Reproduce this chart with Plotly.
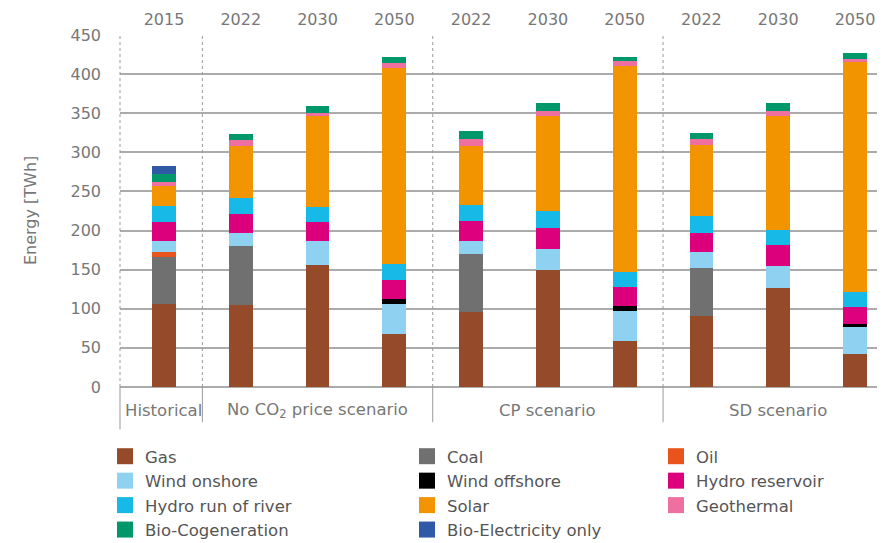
import plotly.graph_objects as go

years = ["2015", "2022", "2030", "2050", "2022", "2030", "2050", "2022", "2030", "2050"]
groups = ["Historical", "No CO<sub>2</sub> price scenario", "CP scenario", "SD scenario"]
group_centers = [0, 2, 5, 8]
group_bounds = [0.5, 3.5, 6.5]

gas = [106, 104.5, 155.6, 67.4, 95.5, 149.2, 58.4, 90.4, 126.2, 41.8]
coal = [60, 75.4, 0, 0, 74.2, 0, 0, 61.4, 0, 0]
oil = [6.7, 0, 0, 0, 0, 0, 0, 0, 0, 0]
wind_on = [14, 16.6, 30.7, 38.4, 16.6, 26.9, 38.4, 20.4, 28.1, 34.5]
wind_off = [0, 0, 0, 6.4, 0, 0, 6.4, 0, 0, 3.9]
hydro_res = [24.3, 24.3, 24.3, 24.3, 25.6, 26.8, 24.3, 24.3, 26.9, 21.7]
hydro_ror = [20.5, 20.9, 19.2, 20.5, 20.5, 21.8, 19.6, 22.2, 19.6, 19.6]
solar = [25.6, 67, 116.7, 250.6, 75.8, 121.8, 263, 90.4, 145.4, 294.1]
geo = [5.1, 6.8, 3.5, 6.5, 8.6, 6.1, 6.4, 7.7, 6.4, 3.4]
bio_cog = [10.6, 7.6, 9, 7.6, 10.2, 10.2, 5.1, 7.6, 10.2, 7.7]
bio_el = [9.8, 0, 0, 0, 0, 0, 0, 0, 0, 0]

series = [
    ("Gas", gas, "#954B2A", "legend"),
    ("Coal", coal, "#707070", "legend2"),
    ("Oil", oil, "#E8541C", "legend3"),
    ("Wind onshore", wind_on, "#8ED1F0", "legend"),
    ("Wind offshore", wind_off, "#000000", "legend2"),
    ("Hydro reservoir", hydro_res, "#DD007D", "legend3"),
    ("Hydro run of river", hydro_ror, "#17B9E7", "legend"),
    ("Solar", solar, "#F29400", "legend2"),
    ("Geothermal", geo, "#EE6FA0", "legend3"),
    ("Bio-Cogeneration", bio_cog, "#00976A", "legend"),
    ("Bio-Electricity only", bio_el, "#3059A6", "legend2"),
]

xpos = list(range(len(years)))
FONT = "DejaVu Sans"
GREY = "#777777"

fig = go.Figure()
for name, vals, color, leg in series:
    fig.add_trace(go.Bar(
        x=xpos, y=vals, name=name, marker=dict(color=color, line=dict(width=0)),
        width=0.31, legendgroup=name, showlegend=False,
    ))
# legend entries with larger square swatches
for name, vals, color, leg in series:
    fig.add_trace(go.Scatter(
        x=[None], y=[None], mode="markers", name=name, legend=leg, legendgroup=name,
        marker=dict(symbol="square", size=16, color=color, line=dict(width=0)),
        showlegend=True,
    ))

shapes = []
for xb in group_bounds:
    shapes.append(dict(type="line", xref="x", yref="paper", x0=xb, x1=xb, y0=0, y1=1,
                       line=dict(color="#999999", width=1, dash="dot")))
    shapes.append(dict(type="line", xref="x", yref="paper", x0=xb, x1=xb, y0=-0.1, y1=0,
                       line=dict(color="#999999", width=1)))
shapes.append(dict(type="line", xref="paper", yref="paper", x0=0, x1=0, y0=0, y1=1,
                   line=dict(color="#999999", width=1, dash="dot")))
shapes.append(dict(type="line", xref="paper", yref="paper", x0=0, x1=0, y0=-0.12, y1=0,
                   line=dict(color="#999999", width=1)))

annotations = []
for g, c in zip(groups, group_centers):
    annotations.append(dict(x=c, y=-0.068, xref="x", yref="paper", text=g, showarrow=False,
                            font=dict(family=FONT, size=16.5, color=GREY), yanchor="middle"))
annotations.append(dict(x=-0.1164, y=0.5, xref="paper", yref="paper", text="Energy [TWh]",
                        textangle=-90, showarrow=False, xanchor="center", yanchor="middle",
                        font=dict(family=FONT, size=16, color=GREY)))

legend_common = dict(orientation="v", yref="container", xref="container", yanchor="top",
                     y=0.2063, xanchor="left",
                     font=dict(family=FONT, size=16.5, color="#555555"), tracegroupgap=0,
                     bgcolor="rgba(0,0,0,0)")

fig.update_layout(
    width=885, height=543,
    margin=dict(l=112, r=0, t=27, b=164, autoexpand=False),
    paper_bgcolor="white", plot_bgcolor="white",
    barmode="stack",
    shapes=shapes, annotations=annotations,
    xaxis=dict(range=[-0.573, 9.495], tickvals=xpos, ticktext=years, side="top",
               showgrid=False, zeroline=False, showline=False, ticks="", automargin=False,
               ticklabelstandoff=6,
               tickfont=dict(family=FONT, size=16, color=GREY)),
    yaxis=dict(range=[0, 450], dtick=50, showgrid=True, gridcolor="#ababab", gridwidth=2,
               zeroline=True, zerolinecolor="#ababab", zerolinewidth=2, showline=False,
               ticks="", ticklabelstandoff=18, automargin=False,
               tickfont=dict(family=FONT, size=16, color=GREY)),
    legend=dict(x=97 / 885, **legend_common),
    legend2=dict(x=399 / 885, **legend_common),
    legend3=dict(x=648 / 885, **legend_common),
    showlegend=True,
)

fig.write_html("out.html")
